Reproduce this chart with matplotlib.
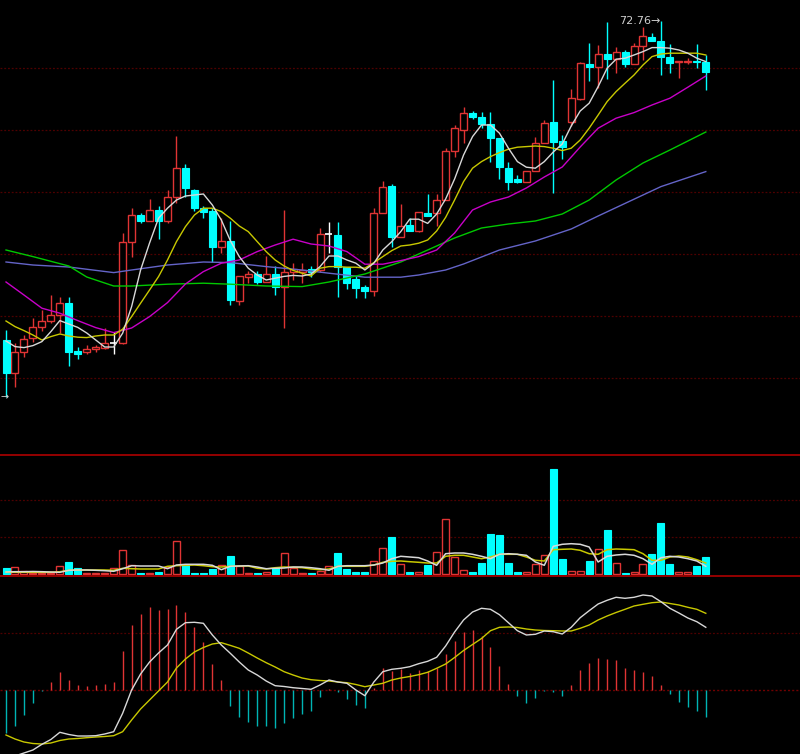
import matplotlib
matplotlib.use("Agg")
import matplotlib.pyplot as plt
import numpy as np

# daily candles
opens = [56.80, 55.17, 56.22, 56.90, 57.47, 57.77, 58.05, 58.67, 56.25, 56.22,
         56.34, 56.39, 56.64, 56.64, 61.69, 63.05, 62.77, 63.30, 62.77, 63.94,
         65.39, 64.30, 63.42, 63.27, 61.47, 61.75, 58.77, 59.97, 60.10, 59.72,
         60.10, 59.44, 60.18, 60.22, 60.34, 60.30, 62.09, 62.05, 60.44, 59.84,
         59.47, 59.27, 63.17, 64.50, 61.97, 62.55, 62.25, 63.17, 63.14, 63.80,
         66.25, 67.30, 68.17, 67.94, 67.60, 66.89, 65.39, 64.84, 64.72, 65.27,
         66.67, 67.68, 66.74, 67.70, 68.84, 70.60, 70.47, 71.10, 70.84, 71.19,
         70.60, 71.50, 71.94, 71.75, 70.97, 70.69, 70.70, 70.75, 70.69]
highs = [57.30, 56.65, 57.05, 57.89, 58.30, 59.05, 58.94, 58.97, 56.47, 56.54,
         56.54, 57.42, 57.22, 62.14, 63.40, 63.17, 63.84, 63.50, 64.30, 67.00,
         65.60, 64.35, 63.50, 63.39, 62.89, 62.75, 60.00, 60.27, 60.27, 61.00,
         60.50, 63.30, 60.64, 60.64, 60.50, 62.39, 62.69, 62.69, 60.45, 60.00,
         59.55, 63.39, 64.75, 64.60, 63.59, 62.89, 63.19, 64.08, 64.08, 66.39,
         67.55, 68.47, 68.27, 68.22, 68.22, 66.90, 65.72, 65.05, 65.27, 66.97,
         67.80, 69.80, 67.05, 69.34, 70.72, 71.64, 71.55, 72.72, 71.44, 71.30,
         71.64, 72.44, 72.17, 72.76, 71.60, 70.75, 70.89, 71.60, 71.05]
lows = [53.94, 54.45, 55.97, 56.72, 57.27, 57.64, 57.14, 55.52, 55.84, 56.10,
        56.22, 56.34, 56.10, 56.60, 60.97, 62.64, 62.74, 61.85, 62.64, 63.67,
        63.97, 63.27, 62.89, 60.72, 61.14, 58.55, 58.55, 59.67, 59.60, 59.70,
        59.05, 57.38, 59.80, 59.65, 59.95, 60.22, 61.14, 58.97, 59.34, 58.89,
        58.92, 59.02, 63.13, 61.44, 61.95, 62.25, 62.22, 62.98, 62.50, 63.78,
        65.97, 66.64, 67.84, 67.39, 65.72, 64.84, 64.30, 64.64, 64.70, 65.25,
        66.65, 64.17, 65.84, 67.50, 68.80, 69.75, 69.39, 69.85, 70.17, 70.47,
        70.58, 70.80, 71.75, 70.05, 70.14, 69.89, 70.60, 70.42, 69.30]
closes = [55.14, 56.22, 56.84, 57.47, 57.77, 58.05, 58.67, 56.22, 56.09, 56.34,
          56.45, 56.64, 56.64, 61.69, 63.05, 62.77, 63.30, 62.77, 63.94, 65.39,
          64.42, 63.42, 63.19, 61.47, 61.75, 58.80, 60.00, 60.10, 59.72, 60.10,
          59.44, 60.20, 60.34, 60.30, 60.19, 62.09, 62.09, 60.44, 59.67, 59.39,
          59.27, 63.17, 64.47, 61.97, 62.50, 62.25, 63.19, 62.99, 63.80, 66.25,
          67.39, 68.14, 67.97, 67.60, 66.89, 65.44, 64.72, 64.72, 65.27, 66.67,
          67.64, 66.72, 66.43, 68.89, 70.64, 70.47, 71.10, 70.85, 71.22, 70.60,
          71.50, 72.00, 71.75, 70.97, 70.64, 70.75, 70.75, 70.69, 70.22]

# moving averages as drawn on the chart
ma5 = [56.75, 56.47, 56.42, 56.52, 56.72, 57.22, 57.77, 57.60, 57.43, 57.15,
       56.80, 56.45, 56.45, 57.14, 58.47, 60.30, 61.65, 62.89, 63.39, 63.80,
       64.00, 64.05, 64.10, 63.55, 62.80, 61.77, 60.97, 60.39, 60.05, 59.80,
       59.89, 59.98, 60.03, 60.00, 60.10, 60.47, 61.00, 61.00, 60.80, 60.64,
       60.30, 60.64, 61.30, 61.72, 62.22, 62.84, 62.84, 62.63, 63.10, 63.85,
       64.85, 66.05, 66.97, 67.55, 67.55, 67.14, 66.39, 65.72, 65.44, 65.39,
       65.72, 66.20, 66.60, 67.50, 68.25, 68.64, 69.47, 70.39, 70.84, 70.89,
       71.05, 71.22, 71.42, 71.42, 71.39, 71.30, 71.14, 70.89, 70.72]
ma10 = [57.75, 57.47, 57.27, 57.05, 56.80, 56.97, 57.10, 57.00, 56.94, 56.92,
        57.00, 57.05, 57.05, 57.34, 57.97, 58.64, 59.30, 59.97, 60.80, 61.72,
        62.47, 63.05, 63.39, 63.39, 63.22, 62.89, 62.50, 62.22, 61.72, 61.22,
        60.80, 60.50, 60.28, 60.14, 60.00, 60.39, 60.47, 60.47, 60.44, 60.44,
        60.39, 60.67, 60.97, 61.27, 61.50, 61.55, 61.64, 61.80, 62.25, 62.93,
        63.80, 64.72, 65.39, 65.72, 65.97, 66.17, 66.34, 66.44, 66.47, 66.50,
        66.47, 66.39, 66.27, 66.39, 66.80, 67.39, 68.05, 68.72, 69.22, 69.64,
        70.05, 70.55, 70.97, 71.10, 71.14, 71.14, 71.14, 71.14, 71.05]
ma20_idx = [0, 2, 4, 6, 8, 10, 12, 14, 16, 18, 20, 22, 24, 26, 28, 30, 32, 34, 36, 38,
            40, 42, 44, 46, 48, 50, 52, 54, 56, 58, 60, 62, 64, 66, 68, 70, 72, 74, 76, 78]
ma20 = [59.70, 59.05, 58.39, 58.14, 57.77, 57.42, 57.17, 57.40, 57.97, 58.67,
        59.60, 60.22, 60.64, 60.80, 61.22, 61.55, 61.84, 61.60, 61.50, 61.22,
        60.59, 60.59, 60.77, 60.97, 61.30, 62.15, 63.30, 63.70, 63.95, 64.40,
        64.95, 65.45, 66.45, 67.39, 67.89, 68.17, 68.55, 68.89, 69.44, 70.00]
ma60_idx = [0, 3, 7, 9, 12, 14, 18, 22, 25, 29, 33, 36, 40, 44, 47, 50, 53, 56, 59, 62,
            65, 68, 71, 74, 78]
ma60 = [61.30, 60.97, 60.50, 59.95, 59.50, 59.50, 59.59, 59.64, 59.59, 59.50,
        59.47, 59.70, 60.10, 60.70, 61.30, 61.90, 62.40, 62.60, 62.75, 63.10,
        63.80, 64.80, 65.65, 66.30, 67.20]
ma120_idx = [0, 3, 7, 12, 14, 18, 22, 25, 29, 33, 36, 40, 44, 46, 49, 51, 55, 59, 63, 66,
             71, 73, 78]
ma120 = [60.70, 60.55, 60.45, 60.17, 60.30, 60.55, 60.70, 60.67, 60.47, 60.30,
         60.14, 59.94, 59.94, 60.05, 60.30, 60.60, 61.30, 61.75, 62.35, 63.00,
         64.05, 64.47, 65.22]

# volume (hands) and its averages
volume = [6300, 7000, 3000, 1000, 1000, 1000, 7700, 12000, 5700, 1000,
          1000, 1000, 6300, 23700, 8700, 1000, 1000, 1700, 7000, 32700,
          8700, 1000, 1000, 5000, 8700, 17700, 7700, 1000, 1000, 1700,
          6300, 21000, 5700, 1000, 1000, 2700, 8300, 21000, 5000, 1700,
          1700, 13000, 26300, 36700, 10300, 1700, 2300, 8700, 21700, 55300,
          16700, 3700, 2000, 11300, 39700, 38700, 11300, 1700, 1700, 10300,
          19300, 105000, 14700, 3000, 3000, 13000, 25300, 43700, 11000, 1300,
          2000, 10300, 20300, 51300, 9700, 2000, 1700, 8000, 17000]
vol_ma5 = [2000, 2300, 2300, 2500, 2300, 2000, 1700, 3700, 4000, 4000,
           3700, 3300, 2700, 5300, 8300, 8000, 8000, 8000, 5300, 9000,
           9700, 9700, 9700, 8700, 4300, 7700, 8000, 8300, 7000, 5300,
           5700, 6000, 7000, 7000, 6300, 5300, 3700, 7700, 8300, 8300,
           8300, 9000, 11000, 15300, 17700, 17000, 16300, 13000, 8700, 20300,
           21000, 21000, 19700, 17700, 15300, 19700, 20300, 19700, 18700, 12000,
           8700, 27700, 29700, 30300, 29700, 27000, 12000, 17700, 19000, 19700,
           18700, 15300, 9700, 16300, 17700, 17000, 15300, 13000, 7700]
vol_ma10 = [2000, 1700, 1700, 1700, 1700, 1700, 2300, 3700, 4000, 4000,
            4000, 4000, 3700, 5700, 5300, 5000, 5000, 5000, 7700, 8300,
            8700, 9000, 8300, 7300, 7000, 7700, 8000, 8000, 5700, 5000,
            6300, 7000, 6700, 6300, 5000, 4300, 5000, 7700, 7700, 7700,
            7700, 9000, 11700, 12700, 13000, 12300, 11700, 11000, 11000, 17700,
            18700, 18700, 17000, 15300, 17000, 19700, 19700, 19700, 17000, 13700,
            13000, 24300, 24700, 25000, 23700, 20300, 19700, 24300, 25000, 24700,
            24300, 20300, 13700, 13700, 17000, 18000, 17000, 14300, 11000]

# MACD
dif = [-0.68, -0.66, -0.63, -0.60, -0.543, -0.495, -0.423, -0.445, -0.46, -0.46,
       -0.457, -0.44, -0.417, -0.233, 0.0, 0.16, 0.28, 0.37, 0.45, 0.607,
       0.673, 0.677, 0.667, 0.55, 0.45, 0.367, 0.28, 0.20, 0.15, 0.09,
       0.043, 0.035, 0.023, 0.015, 0.007, 0.05, 0.10, 0.08, 0.067, 0.0,
       -0.057, 0.08, 0.183, 0.207, 0.217, 0.233, 0.263, 0.287, 0.327, 0.44,
       0.58, 0.70, 0.78, 0.817, 0.807, 0.753, 0.673, 0.593, 0.55, 0.557,
       0.59, 0.583, 0.56, 0.627, 0.723, 0.793, 0.86, 0.897, 0.927, 0.917,
       0.927, 0.95, 0.94, 0.883, 0.817, 0.77, 0.72, 0.683, 0.627]
dea = [-0.45, -0.49, -0.52, -0.535, -0.54, -0.53, -0.505, -0.49, -0.485, -0.477,
       -0.47, -0.465, -0.457, -0.417, -0.30, -0.19, -0.10, -0.01, 0.08, 0.22,
       0.31, 0.38, 0.425, 0.46, 0.473, 0.446, 0.417, 0.37, 0.32, 0.273,
       0.23, 0.183, 0.15, 0.12, 0.103, 0.095, 0.09, 0.08, 0.073, 0.055,
       0.033, 0.05, 0.067, 0.10, 0.12, 0.135, 0.153, 0.177, 0.217, 0.26,
       0.325, 0.395, 0.455, 0.515, 0.593, 0.627, 0.63, 0.625, 0.61, 0.60,
       0.595, 0.593, 0.59, 0.59, 0.617, 0.65, 0.70, 0.74, 0.775, 0.807,
       0.84, 0.857, 0.873, 0.88, 0.865, 0.85, 0.827, 0.807, 0.767]
macd_hist = [-0.427, -0.36, -0.25, -0.127, -0.007, 0.077, 0.183, 0.10, 0.05, 0.04,
             0.047, 0.06, 0.08, 0.39, 0.65, 0.76, 0.827, 0.80, 0.807, 0.85,
             0.777, 0.627, 0.477, 0.257, 0.10, -0.157, -0.267, -0.32, -0.36, -0.36,
             -0.377, -0.327, -0.277, -0.24, -0.207, -0.067, 0.01, -0.017, -0.093, -0.15,
             -0.177, 0.02, 0.223, 0.19, 0.207, 0.173, 0.20, 0.193, 0.217, 0.357,
             0.493, 0.583, 0.60, 0.543, 0.427, 0.24, 0.06, -0.06, -0.127, -0.077,
             -0.007, -0.017, -0.06, 0.047, 0.20, 0.267, 0.317, 0.313, 0.30, 0.223,
             0.20, 0.183, 0.14, 0.047, -0.043, -0.117, -0.167, -0.207, -0.273]

RED = '#e03434'
CYAN = '#00ffff'
GRID = '#4e0000'
BORDER = '#a00000'

o = np.array(opens); h = np.array(highs); l = np.array(lows); c = np.array(closes)
x = np.arange(len(c))
up = c > o
down = c < o
flat = c == o

fig = plt.figure(figsize=(8, 7.54), dpi=100, facecolor='black')
ax_k = fig.add_axes([0, 1 - 455 / 754, 1, 455 / 754])
ax_v = fig.add_axes([0, 1 - 576 / 754, 1, 121 / 754])
ax_m = fig.add_axes([0, 0, 1, 178 / 754])

for ax in (ax_k, ax_v, ax_m):
    ax.set_facecolor('black')
    ax.set_xlim(-0.67, 88.5)
    ax.set_xticks([])
    ax.set_yticks([])
    for s in ax.spines.values():
        s.set_visible(False)
for ax in (ax_v, ax_m):
    ax.spines['top'].set_visible(True)
    ax.spines['top'].set_color(BORDER)
    ax.spines['top'].set_linewidth(1.3)

# ---- price panel ----
ax_k.set_ylim(51.05, 73.8)
for g in 70.4 - 3.1 * np.arange(6):
    ax_k.axhline(g, color=GRID, ls=(0, (1.5, 1.5)), lw=0.9, zorder=0)

w = 0.78
ax_k.vlines(x[up], l[up], h[up], color=RED, lw=1.0, zorder=2)
ax_k.vlines(x[down], l[down], h[down], color=CYAN, lw=1.0, zorder=2)
ax_k.vlines(x[flat], l[flat], h[flat], color='white', lw=1.0, zorder=2)
ax_k.bar(x[up], (c - o)[up], bottom=o[up], width=w, facecolor='black',
         edgecolor=RED, lw=1.0, zorder=3)
ax_k.bar(x[down], (o - c)[down], bottom=c[down], width=w, facecolor=CYAN,
         edgecolor=CYAN, lw=0.8, zorder=3)
ax_k.hlines(c[flat], x[flat] - w / 2, x[flat] + w / 2, color='white', lw=1.2, zorder=3)

ax_k.plot(ma120_idx, ma120, color='#6464c8', lw=1.0, zorder=4)
ax_k.plot(ma60_idx, ma60, color='#00c800', lw=1.0, zorder=4)
ax_k.plot(ma20_idx, ma20, color='#c800c8', lw=1.0, zorder=4)
ax_k.plot(x, ma10, color='#c8c800', lw=1.0, zorder=4)
ax_k.plot(x, ma5, color='#d8d8d8', lw=1.0, zorder=4)

top = int(np.argmax(h))
ax_k.text(top - 0.1, h[top], f'{h[top]:.2f}→', color='#d0d0d0', fontsize=8,
          ha='right', va='center', zorder=5)
# the low label sits off the left edge; only its arrow shows
bot = int(np.argmin(l))
ax_k.text(-0.67, l[bot], '→', color='#d0d0d0', fontsize=7,
          ha='left', va='center', zorder=5)

# ---- volume panel ----
v = np.array(volume)
vup = c >= o
ax_v.set_ylim(-2000, 119000)
for g in (37000, 74000):
    ax_v.axhline(g, color=GRID, ls=(0, (1.5, 1.5)), lw=0.9, zorder=0)
ax_v.bar(x[vup], v[vup], width=w, facecolor='black', edgecolor=RED, lw=1.0, zorder=2)
ax_v.bar(x[~vup], v[~vup], width=w, facecolor=CYAN, edgecolor=CYAN, lw=0.8, zorder=2)
ax_v.plot(x, vol_ma10, color='#c8c800', lw=1.1, zorder=3)
ax_v.plot(x, vol_ma5, color='#d8d8d8', lw=1.1, zorder=3)

# ---- MACD panel ----
mh = np.array(macd_hist)
ax_m.set_ylim(-0.64, 1.14)
ax_m.axhline(0.57, color=GRID, ls=(0, (1.5, 1.5)), lw=0.9, zorder=0)
ax_m.axhline(0, color='#700000', ls=(0, (1.5, 1.5)), lw=1.0, zorder=0)
pos = mh > 0
ax_m.vlines(x[pos], 0, mh[pos], color=RED, lw=1.0, zorder=2)
ax_m.vlines(x[~pos], 0, mh[~pos], color='#00b4b4', lw=1.0, zorder=2)
ax_m.plot(x, dea, color='#c8c800', lw=1.0, zorder=3)
ax_m.plot(x, dif, color='#d8d8d8', lw=1.0, zorder=3)

fig.savefig('out.png', dpi=100, facecolor='black')
